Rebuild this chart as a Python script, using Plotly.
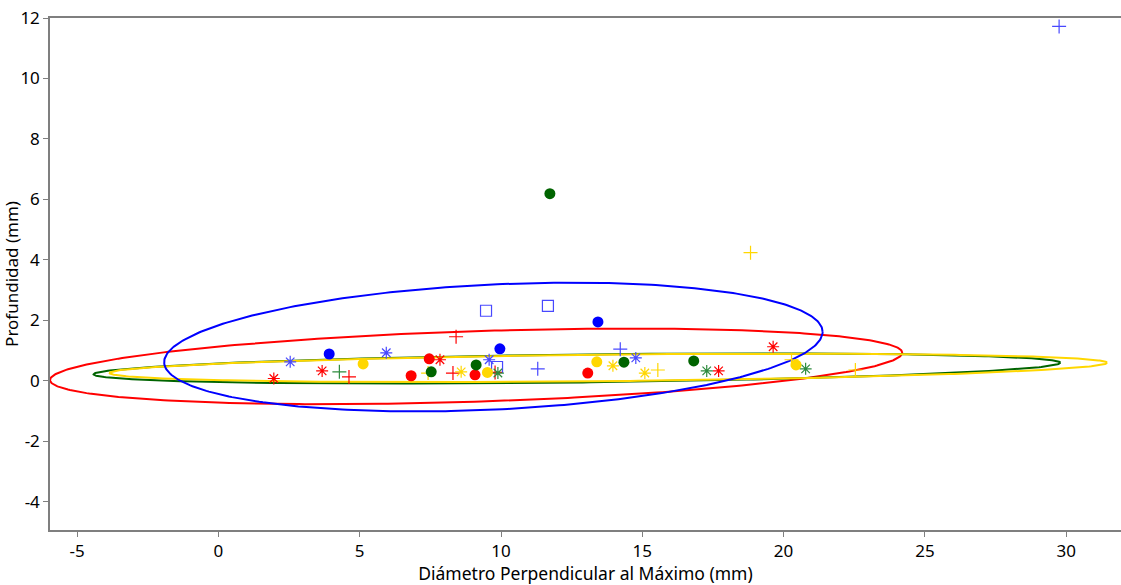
import numpy as np
import plotly.graph_objects as go

# ---- data ----
colors = {"blue": "#0000FF", "red": "#FF0000", "green": "#006400", "yellow": "#FFD700"}

# filled circles
blue_dot_x = [3.92, 9.96, 13.43]
blue_dot_y = [0.89, 1.06, 1.95]
red_dot_x = [7.46, 6.82, 9.08, 13.07]
red_dot_y = [0.73, 0.17, 0.20, 0.26]
green_dot_x = [11.73, 7.53, 9.12, 14.35, 16.82]
green_dot_y = [6.19, 0.30, 0.53, 0.62, 0.66]
yellow_dot_x = [5.12, 9.52, 13.39, 20.44]
yellow_dot_y = [0.56, 0.28, 0.63, 0.53]

# plus markers
blue_plus_x = [29.75, 11.30, 14.22]
blue_plus_y = [11.72, 0.40, 1.05]
red_plus_x = [8.41, 4.62, 8.30, 9.79]
red_plus_y = [1.46, 0.13, 0.26, 0.28]
green_plus_x = [4.28]
green_plus_y = [0.30]
yellow_plus_x = [18.83, 15.55, 22.54, 7.42, 20.28]
yellow_plus_y = [4.24, 0.36, 0.36, 0.26, 0.70]

# asterisk markers
blue_star_x = [2.54, 5.94, 9.58, 14.77]
blue_star_y = [0.63, 0.93, 0.70, 0.76]
red_star_x = [1.96, 3.67, 7.84, 19.63, 17.70]
red_star_y = [0.08, 0.33, 0.70, 1.13, 0.33]
green_star_x = [9.89, 17.28, 20.78]
green_star_y = [0.26, 0.33, 0.40]
yellow_star_x = [8.59, 13.96, 15.09]
yellow_star_y = [0.30, 0.50, 0.26]

# open squares
blue_square_x = [9.47, 11.66, 9.86]
blue_square_y = [2.32, 2.48, 0.46]

# density ellipses: center, half-ranges and correlation
ell_names = ["red", "green", "yellow", "blue"]
ell_cx = [9.12, 12.69, 13.80, 9.73]
ell_cy = [0.48, 0.41, 0.43, 1.12]
ell_ax = [15.08, 17.11, 17.65, 11.65]
ell_ay = [1.25, 0.50, 0.47, 2.13]
ell_r = [0.36, 0.38, 0.36, 0.235]

x_ticks = [-5, 0, 5, 10, 15, 20, 25, 30]
x_tick_text = ["-5", "0", "5", "10", "15", "20", "25", "30"]
y_ticks = [-4, -2, 0, 2, 4, 6, 8, 10, 12]
y_tick_text = ["-4", "-2", "0", "2", "4", "6", "8", "10", "12"]

# ---- figure ----
fig = go.Figure()

t = np.linspace(0, 2 * np.pi, 400)
for name, cx, cy, ax, ay, r in zip(ell_names, ell_cx, ell_cy, ell_ax, ell_ay, ell_r):
    ex = cx + ax * np.cos(t)
    ey = cy + ay * (r * np.cos(t) + np.sqrt(1 - r * r) * np.sin(t))
    fig.add_trace(go.Scatter(x=ex, y=ey, mode="lines",
                             line=dict(color=colors[name], width=2),
                             hoverinfo="skip", showlegend=False))

def add_pts(xs, ys, color, symbol, size, lw=0):
    marker = dict(color=color, symbol=symbol, size=size)
    if symbol in ("cross-thin", "asterisk", "square-open"):
        marker["line"] = dict(color=color, width=lw)
    fig.add_trace(go.Scatter(x=xs, y=ys, mode="markers", marker=marker,
                             showlegend=False))

add_pts(blue_square_x, blue_square_y, "#4848FF", "square-open", 11, 1.2)
add_pts(blue_plus_x, blue_plus_y, "#4848FF", "cross-thin", 10, 1.2)
add_pts(red_plus_x, red_plus_y, colors["red"], "cross-thin", 10, 1.2)
add_pts(green_plus_x, green_plus_y, "#2E8B3E", "cross-thin", 10, 1.2)
add_pts(yellow_plus_x, yellow_plus_y, colors["yellow"], "cross-thin", 10, 1.2)
add_pts(blue_star_x, blue_star_y, "#4848FF", "asterisk", 10, 1.2)
add_pts(red_star_x, red_star_y, colors["red"], "asterisk", 10, 1.2)
add_pts(green_star_x, green_star_y, "#2E8B3E", "asterisk", 10, 1.2)
add_pts(yellow_star_x, yellow_star_y, colors["yellow"], "asterisk", 10, 1.2)
add_pts(blue_dot_x, blue_dot_y, colors["blue"], "circle", 11)
add_pts(red_dot_x, red_dot_y, colors["red"], "circle", 11)
add_pts(green_dot_x, green_dot_y, colors["green"], "circle", 11)
add_pts(yellow_dot_x, yellow_dot_y, colors["yellow"], "circle", 11)

axis_common = dict(showgrid=False, zeroline=False, showline=True, linecolor="#7F7F7F",
                   linewidth=1.5, ticks="outside", ticklen=5, tickcolor="#7F7F7F",
                   tickfont=dict(size=17, color="#000000"))

fig.update_layout(
    width=1121, height=585,
    margin=dict(l=50, r=0, t=18, b=55),
    paper_bgcolor="white", plot_bgcolor="white",
    font=dict(family="Noto Sans", size=17, color="#000000"),
    xaxis=dict(range=[-5.96, 31.94], tickvals=x_ticks, ticktext=x_tick_text, mirror=True,
               title=dict(text="Diámetro Perpendicular al Máximo (mm)", standoff=1,
                          font=dict(size=17.5)), **axis_common),
    yaxis=dict(range=[-4.93, 12.0], tickvals=y_ticks, ticktext=y_tick_text, mirror=False,
               title=dict(text="Profundidad (mm)", standoff=0, font=dict(size=17)),
               **axis_common),
)

fig.write_html("out.html")
